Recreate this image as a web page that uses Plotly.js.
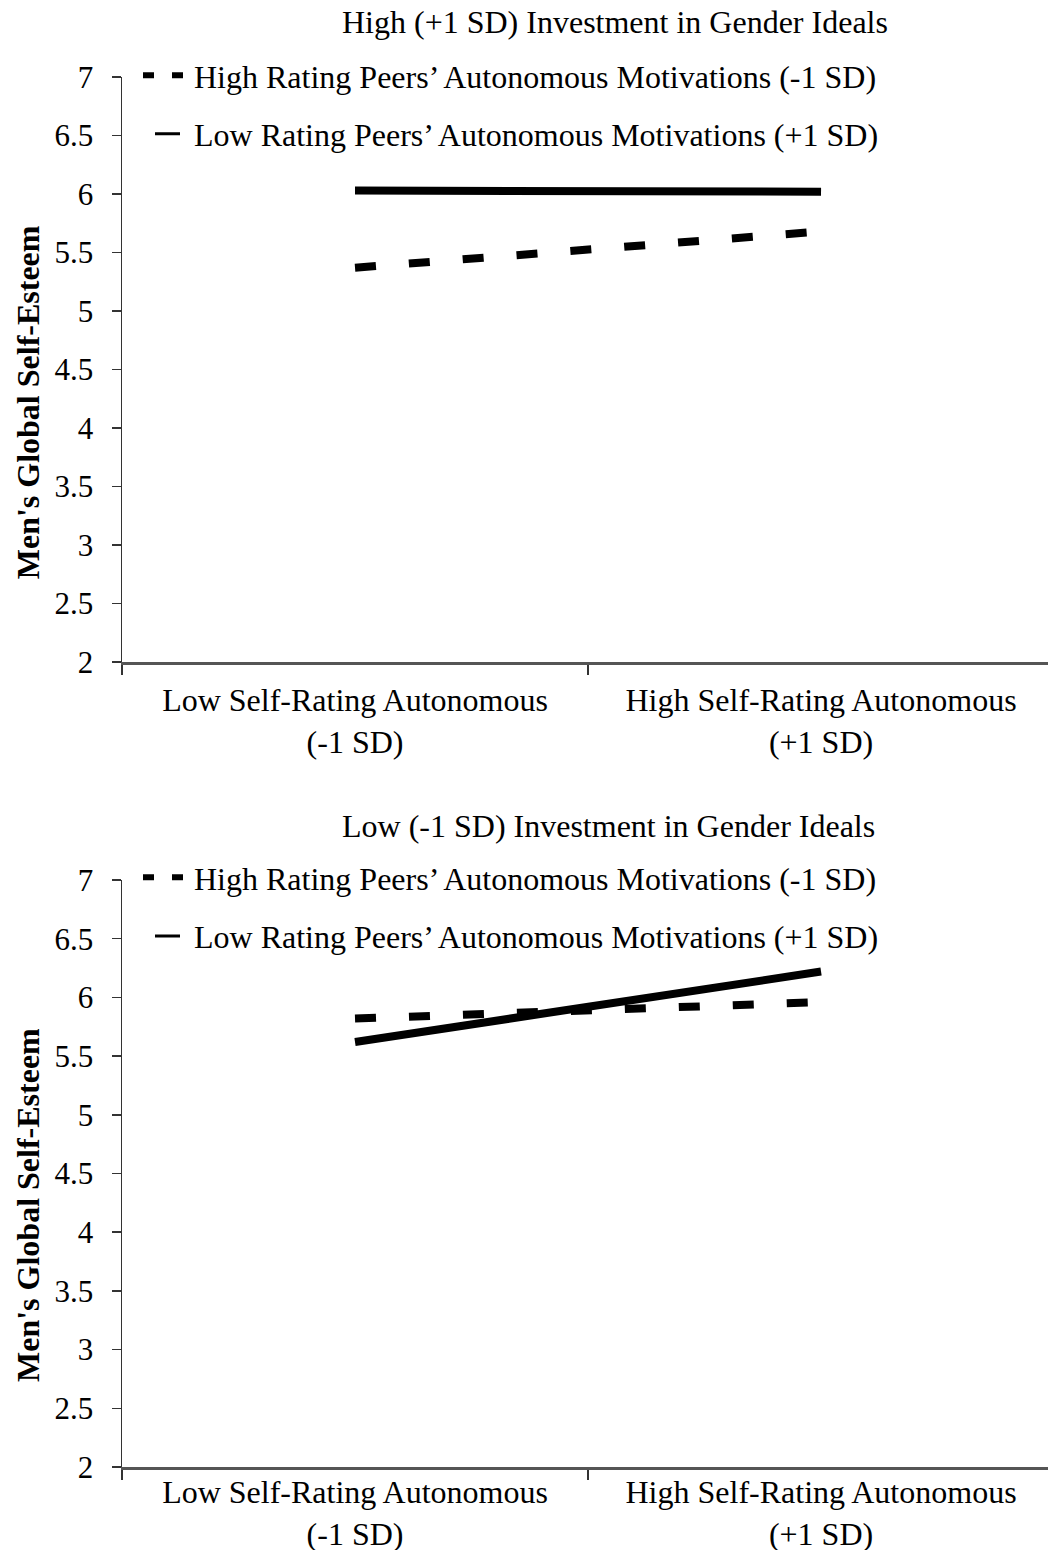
<!DOCTYPE html>
<html>
<head>
<meta charset="utf-8">
<script src="https://cdn.plot.ly/plotly-3.0.1.min.js"></script>
<style>
  html, body { margin: 0; padding: 0; background: #fff; }
  #chart { width: 1048px; height: 1550px; }
  .plot path.js-line { stroke-linecap: round; }
</style>
</head>
<body>
<div id="chart"></div>
<script>
// Self-rating levels on the x axis
const categories = ["Low Self-Rating Autonomous<br>(-1 SD)", "High Self-Rating Autonomous<br>(+1 SD)"];
const seriesNames = [
  "High Rating Peers\u2019 Autonomous Motivations (-1 SD)",
  "Low Rating Peers\u2019 Autonomous Motivations (+1 SD)"
];
const panelTitles = [
  "High (+1 SD) Investment in Gender Ideals",
  "Low (-1 SD) Investment in Gender Ideals"
];
const yTitle = "Men's Global Self-Esteem";
const yTickVals = [2, 2.5, 3, 3.5, 4, 4.5, 5, 5.5, 6, 6.5, 7];

// Predicted self-esteem, high investment in gender ideals
const highInvHighPeers = [5.37, 5.68];
const highInvLowPeers = [6.03, 6.02];
// Predicted self-esteem, low investment in gender ideals
const lowInvHighPeers = [5.82, 5.96];
const lowInvLowPeers = [5.62, 6.22];

const FONT = "Liberation Serif, Times New Roman, serif";
const FS = 32;

function lineTrace(y, name, dashed, xa, ya, legendId, group) {
  return {
    x: categories, y: y, name: name, type: "scatter", mode: "lines",
    xaxis: xa, yaxis: ya, legend: legendId, legendgroup: group,
    line: { color: "#000", width: 8, dash: dashed ? "21px,33px" : "solid" },
    hoverinfo: "skip"
  };
}

const data = [
  lineTrace(highInvHighPeers, seriesNames[0], true, "x", "y", "legend", "a"),
  lineTrace(highInvLowPeers, seriesNames[1], false, "x", "y", "legend", "b"),
  lineTrace(lowInvHighPeers, seriesNames[0], true, "x2", "y2", "legend2", "a"),
  lineTrace(lowInvLowPeers, seriesNames[1], false, "x2", "y2", "legend2", "b")
];

function xAxis(anchor, standoff) {
  return {
    anchor: anchor, type: "category", range: [-0.5, 1.487],
    tickson: "boundaries", ticks: "outside", ticklen: 10, tickwidth: 1.5, tickcolor: "#333",
    showline: true, linecolor: "#555", linewidth: 2.5, showgrid: false, zeroline: false,
    tickfont: { family: FONT, size: FS, color: "#000" }, ticklabelstandoff: standoff,
    fixedrange: true
  };
}
function yAxis(anchor, domain) {
  return {
    anchor: anchor, domain: domain, range: [2, 7], tickvals: yTickVals,
    ticktext: yTickVals.map(String), ticks: "outside", ticklen: 9, tickwidth: 1.5, tickcolor: "#333",
    showline: true, linecolor: "#333", linewidth: 1.5, showgrid: false, zeroline: false,
    tickfont: { family: FONT, size: 31, color: "#000" }, ticklabelstandoff: 12, fixedrange: true
  };
}
function legendBox(y) {
  return {
    x: 0.01728, y: y, xanchor: "left", yanchor: "top", traceorder: "grouped",
    tracegroupgap: 14, itemwidth: 46, bgcolor: "rgba(0,0,0,0)",
    font: { family: FONT, size: FS, color: "#000" }
  };
}

const layout = {
  width: 1048, height: 1550,
  margin: { l: 122, r: 0, t: 77, b: 83 },
  paper_bgcolor: "#fff", plot_bgcolor: "#fff",
  showlegend: true,
  xaxis: xAxis("y", 8), yaxis: yAxis("x", [0.5791, 1]),
  xaxis2: xAxis("y2", -5), yaxis2: yAxis("x2", [0, 0.4223]),
  legend: legendBox(1.0209),
  legend2: legendBox(0.4439),
  annotations: [
    { text: panelTitles[0], xref: "paper", yref: "paper", x: 0.5324, y: 1.0396,
      xanchor: "center", yanchor: "middle", showarrow: false,
      font: { family: FONT, size: FS, color: "#000" } },
    { text: panelTitles[1], xref: "paper", yref: "paper", x: 0.5259, y: 0.4612,
      xanchor: "center", yanchor: "middle", showarrow: false,
      font: { family: FONT, size: FS, color: "#000" } },
    { text: "<b>" + yTitle + "</b>", xref: "paper", yref: "paper", x: -0.1015, y: 0.766,
      xanchor: "center", yanchor: "middle", textangle: -90, showarrow: false,
      font: { family: FONT, size: FS, color: "#000" } },
    { text: "<b>" + yTitle + "</b>", xref: "paper", yref: "paper", x: -0.1015, y: 0.1885,
      xanchor: "center", yanchor: "middle", textangle: -90, showarrow: false,
      font: { family: FONT, size: FS, color: "#000" } }
  ]
};

// Legend keys: short double dash for the dashed series, thin short bar for the solid one
const legendKeyStyle = {
  dashed: { width: "6px", dasharray: "11px,18px,11px,100px" },
  solid: { width: "3px", dasharray: "0px,12px,25px,100px" }
};

Plotly.newPlot("chart", data, layout, { staticPlot: true, displayModeBar: false }).then(function (gd) {
  gd.querySelectorAll(".legend .traces, .legend2 .traces").forEach(function (g) {
    const d = g.__data__;
    const trace = d && d[0] && d[0].trace;
    if (!trace) return;
    const st = trace.line.dash === "solid" ? legendKeyStyle.solid : legendKeyStyle.dashed;
    g.querySelectorAll("path.js-line").forEach(function (p) {
      p.style.strokeWidth = st.width;
      p.style.strokeDasharray = st.dasharray;
      p.style.strokeLinecap = "butt";
    });
  });
});
</script>
</body>
</html>
